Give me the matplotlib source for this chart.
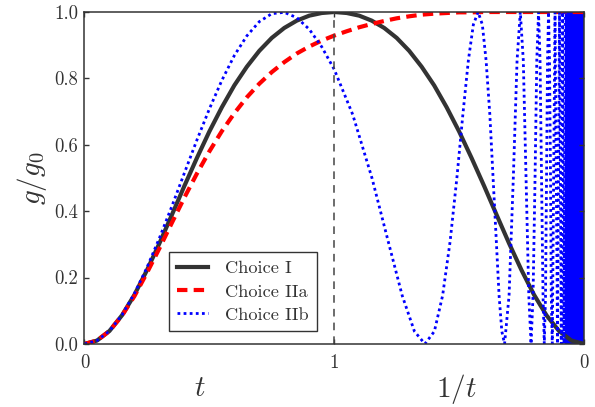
import matplotlib
matplotlib.use('Agg')
import matplotlib.pyplot as plt

plt.rcParams['font.family'] = 'cmr10'
plt.rcParams['mathtext.fontset'] = 'cm'
plt.rcParams['axes.formatter.use_mathtext'] = True

# ---- left half of the axis: t from 0 to 1
t_left = [0.00, 0.05, 0.10, 0.15, 0.20, 0.25, 0.30, 0.35, 0.40, 0.45, 0.50,
          0.55, 0.60, 0.65, 0.70, 0.75, 0.80, 0.85, 0.90, 0.95, 1.00]
choice1_left = [0.000, 0.010, 0.039, 0.086, 0.148, 0.222, 0.303, 0.389, 0.476, 0.560, 0.640,
                0.713, 0.779, 0.835, 0.883, 0.922, 0.952, 0.974, 0.989, 0.997, 1.000]
choice2a_left = [0.000, 0.010, 0.039, 0.085, 0.144, 0.214, 0.288, 0.365, 0.441, 0.513, 0.580,
                 0.641, 0.695, 0.743, 0.784, 0.819, 0.849, 0.875, 0.896, 0.914, 0.929]
choice2b_left = [0.000, 0.010, 0.039, 0.087, 0.152, 0.230, 0.319, 0.415, 0.515, 0.614, 0.708,
                 0.794, 0.869, 0.928, 0.971, 0.995, 0.999, 0.983, 0.948, 0.895, 0.827]

# ---- right half of the axis: 1/t from 1 down to 0
inv_t_right = [1.00, 0.95, 0.90, 0.85, 0.80, 0.75, 0.70, 0.65, 0.60, 0.55, 0.50,
               0.45, 0.40, 0.35, 0.30, 0.25, 0.20, 0.15, 0.10, 0.05, 0.00]
choice1_right = [1.000, 0.997, 0.989, 0.974, 0.952, 0.922, 0.883, 0.835, 0.779, 0.713, 0.640,
                 0.560, 0.476, 0.389, 0.303, 0.222, 0.148, 0.086, 0.039, 0.010, 0.000]
choice2a_right = [0.929, 0.942, 0.954, 0.964, 0.973, 0.981, 0.987, 0.992, 0.995, 0.997, 0.999,
                  0.999, 1.000, 1.000, 1.000, 1.000, 1.000, 1.000, 1.000, 1.000, 1.000]

# choice IIb oscillates faster and faster as 1/t -> 0
inv_t_2b = [1.000, 0.926, 0.849, 0.784, 0.728, 0.679, 0.637, 0.599, 0.566, 0.536, 0.509,
            0.485, 0.463, 0.443, 0.424, 0.407, 0.392, 0.377, 0.364, 0.351, 0.340, 0.329,
            0.318, 0.300, 0.283, 0.268, 0.255, 0.243, 0.232, 0.221, 0.212, 0.204, 0.196,
            0.189, 0.182, 0.176, 0.170, 0.164, 0.159, 0.154, 0.150, 0.146, 0.142, 0.138,
            0.134, 0.131, 0.127, 0.116, 0.106, 0.098, 0.091, 0.085, 0.080, 0.075]
choice2b_right = [0.827, 0.691, 0.500, 0.309, 0.146, 0.038, 0.000, 0.038, 0.146, 0.309, 0.500,
                  0.691, 0.854, 0.962, 1.000, 0.962, 0.854, 0.691, 0.500, 0.309, 0.146, 0.038,
                  0.000, 0.146, 0.500, 0.854, 1.000, 0.854, 0.500, 0.146, 0.000, 0.146, 0.500,
                  0.854, 1.000, 0.854, 0.500, 0.146, 0.000, 0.146, 0.500, 0.854, 1.000, 0.854,
                  0.500, 0.146, 0.000, 1.000, 0.000, 1.000, 0.000, 1.000, 0.000, 1.000]
# 1/t range where IIb is too dense to resolve (solid blue)
band_2b = [0.075, 0.000]


def right_x(inv_t):
    # 1/t axis runs from 1 (at x=1) to 0 (at x=2)
    return [2 - s for s in inv_t]


fig = plt.figure(figsize=(5.95, 4.07), dpi=100)
ax = fig.add_axes([0.142, 0.155, 0.8395, 0.8155])

dark = '#333333'
ax.plot(t_left + right_x(inv_t_right)[1:], choice1_left + choice1_right[1:],
        color=dark, lw=3, label='Choice I')
ax.plot(t_left + right_x(inv_t_right)[1:], choice2a_left + choice2a_right[1:],
        color='red', lw=3, ls=(0, (2.5, 1.5)), label='Choice IIa')
ax.plot(t_left + right_x(inv_t_2b)[1:], choice2b_left + choice2b_right[1:],
        color='blue', lw=2, ls=(0, (1, 1.2)), label='Choice IIb')
ax.fill_between(right_x(band_2b), 0, 1, color='blue', lw=0)

ax.axvline(1, color='#444444', lw=1.1, ls=(0, (5, 4)))

ax.set_xlim(0, 2)
ax.set_ylim(0, 1)
ax.set_xticks([0, 1, 2])
ax.set_xticklabels(['0', '1', '0'])
ax.set_yticks([0, 0.2, 0.4, 0.6, 0.8, 1.0])
ax.set_yticklabels(['0.0', '0.2', '0.4', '0.6', '0.8', '1.0'])
ax.tick_params(direction='in', length=3.5, width=1, colors=dark,
               labelsize=13.5, top=True, right=True)
ax.tick_params(axis='x', pad=7)
ax.tick_params(axis='y', pad=4.5)
for sp in ax.spines.values():
    sp.set_color(dark)
    sp.set_linewidth(1.1)

ax.set_ylabel('$g/g_0$', fontsize=21, color=dark, labelpad=4)
ax.text(0.46, -0.136, '$t$', transform=ax.get_xaxis_transform(),
        fontsize=21, color=dark, ha='center', va='center')
ax.text(1.49, -0.136, '$1/t$', transform=ax.get_xaxis_transform(),
        fontsize=21, color=dark, ha='center', va='center')

leg = ax.legend(loc='lower left', bbox_to_anchor=(0.169, 0.039), borderaxespad=0,
                fontsize=13.2, fancybox=False, framealpha=1, edgecolor=dark,
                handlelength=1.7, handletextpad=0.9, labelspacing=0.4, borderpad=0.45)
leg.get_frame().set_linewidth(1.0)
for txt in leg.get_texts():
    txt.set_color(dark)

fig.savefig('out.png', dpi=100)
